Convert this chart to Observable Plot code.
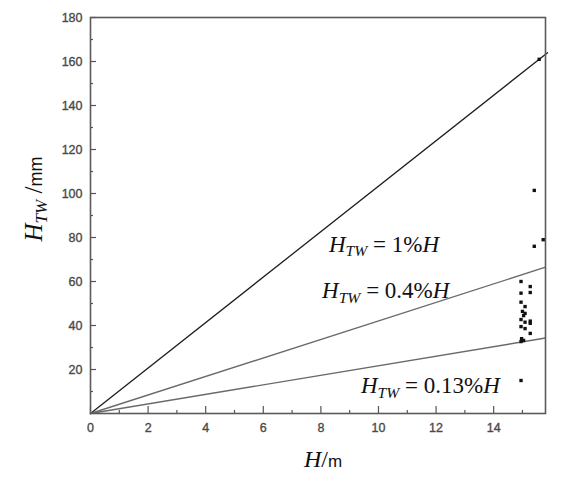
<!DOCTYPE html>
<html><head><meta charset="utf-8">
<script src="https://cdn.jsdelivr.net/npm/d3@7"></script>
<script src="https://cdn.jsdelivr.net/npm/@observablehq/plot@0.6"></script>
<style>
body{margin:0;background:#fff}
g[aria-label$="tick label"] text { stroke: #4a4a4a; stroke-width: 0.35px; }
</style>
</head><body><div id="chart"></div>
<script>
// measured points: H (m), H_TW (mm)
const pointH   = [15.58, 15.41, 15.41, 15.72, 14.95, 14.95, 15.27, 15.27, 14.95, 14.95, 15.09, 15.00, 15.04, 15.09, 14.95, 15.27, 15.27, 15.09, 14.95, 15.09, 15.27, 14.97, 15.04, 14.95];
const pointHtw = [161, 101.4, 76, 79, 15, 60, 57.7, 55, 54.7, 50.6, 48.6, 46.4, 44.5, 45.5, 42.7, 42, 41, 41.5, 39.5, 38.6, 36.4, 34, 33.2, 32.7];
// reference lines (from origin to end point as drawn)
const lineNames = ["1%", "0.4%", "0.13%"];
const lineEndH = [15.87, 15.8, 15.8];
const lineEndHtw = [164, 66.5, 34.3];
// annotations
const annotRest = [" = 1%", " = 0.4%", " = 0.13%"];
const annotH = [8.28, 8.04, 9.39];
const annotHtw = [73.6, 52.3, 9.1];
// ticks
const xTicks = [0, 2, 4, 6, 8, 10, 12, 14];
const xMinor = [1, 3, 5, 7, 9, 11, 13, 15];
const yTicks = [20, 40, 60, 80, 100, 120, 140, 160, 180];
const yMinor = [10, 30, 50, 70, 90, 110, 130, 150, 170];

const W = 572, H = 485, mL = 90, mR = 27, mT = 17, mB = 72;
const PW = W - mL - mR, PH = H - mT - mB;

const points = pointH.map((h, i) => ({h, v: pointHtw[i]}));
const lines = lineNames.flatMap((k, i) => [{k, h: 0, v: 0}, {k, h: lineEndH[i], v: lineEndHtw[i]}]);
const annots = annotRest.map((r, i) => ({t: "H_TW" + r + "H", h: annotH[i], v: annotHtw[i]}));

const chart = Plot.plot({
  width: W, height: H,
  marginLeft: mL, marginRight: mR, marginTop: mT, marginBottom: mB,
  x: {domain: [0, 15.8]},
  y: {domain: [0, 180]},
  style: {fontFamily: "Liberation Sans, Arial, sans-serif", fontSize: "12.5px", color: "#4a4a4a", background: "#fff"},
  marks: [
    Plot.axisX({ticks: xTicks, tickSize: 0, tickPadding: 10, tickFormat: d => String(d), label: null}),
    Plot.axisY({ticks: yTicks, tickSize: 0, tickPadding: 8, tickFormat: d => String(d), label: null}),
    Plot.tickX(xTicks, {x: d => d, insetTop: PH - 7, stroke: "#555", strokeWidth: 1.2}),
    Plot.tickX(xMinor, {x: d => d, insetTop: PH - 3, stroke: "#555", strokeWidth: 1.2}),
    Plot.tickY(yTicks, {y: d => d, insetRight: PW - 6, stroke: "#555", strokeWidth: 1.2}),
    Plot.tickY(yMinor, {y: d => d, insetRight: PW - 3, stroke: "#555", strokeWidth: 1.2}),
    Plot.line(lines.filter(d => d.k === "1%"), {x: "h", y: "v", stroke: "#1e1e1e", strokeWidth: 1.3}),
    Plot.line(lines.filter(d => d.k !== "1%"), {x: "h", y: "v", z: "k", stroke: "#6a6a6a", strokeWidth: 1.4}),
    Plot.frame({stroke: "#5a5a5a", strokeWidth: 1.6}),
    Plot.dot(points, {x: "h", y: "v", symbol: "square", r: 1.9, fill: "#111", stroke: "none"}),
    Plot.text(annots, {x: "h", y: "v", text: "t", textAnchor: "start", lineAnchor: "bottom"})
  ]
});
document.getElementById("chart").appendChild(chart);

const svg = d3.select(chart);
const serif = "Liberation Serif, Times New Roman, serif";
const sans = "Liberation Sans, Arial, sans-serif";
function htw(sel, size, subSize) {
  sel.append("tspan").attr("font-family", serif).attr("font-style", "italic").attr("font-size", size).text("H");
  sel.append("tspan").attr("font-family", serif).attr("font-style", "italic").attr("font-size", subSize).attr("dy", size * 0.2).text("TW");
}
svg.selectAll("text").each(function() {
  const m = this.textContent.match(/^H_TW( = .*%)H$/);
  if (!m) return;
  const s = d3.select(this);
  const size = 23;
  s.text(null).attr("fill", "#111").style("white-space", "pre");
  htw(s, size, size * 0.68);
  s.append("tspan").attr("font-family", serif).attr("font-size", size).attr("dy", -size * 0.2).text(m[1]);
  s.append("tspan").attr("font-family", serif).attr("font-style", "italic").attr("font-size", size).text("H");
});

// y axis title
const yl = svg.append("text").attr("transform", "translate(42,199) rotate(-90)")
  .attr("text-anchor", "middle").attr("fill", "#111").style("white-space", "pre");
htw(yl, 25, 17);
yl.append("tspan").attr("font-family", serif).attr("font-size", 25).attr("dy", -25 * 0.2).text(" /");
yl.append("tspan").attr("font-family", sans).attr("font-size", 18).text("mm");

// x axis title
const xl = svg.append("text").attr("transform", "translate(323,467)")
  .attr("text-anchor", "middle").attr("fill", "#111");
xl.append("tspan").attr("font-family", serif).attr("font-style", "italic").attr("font-size", 24).text("H");
xl.append("tspan").attr("font-family", serif).attr("font-size", 24).text("/");
xl.append("tspan").attr("font-family", sans).attr("font-size", 17).text("m");
</script>
</body></html>
